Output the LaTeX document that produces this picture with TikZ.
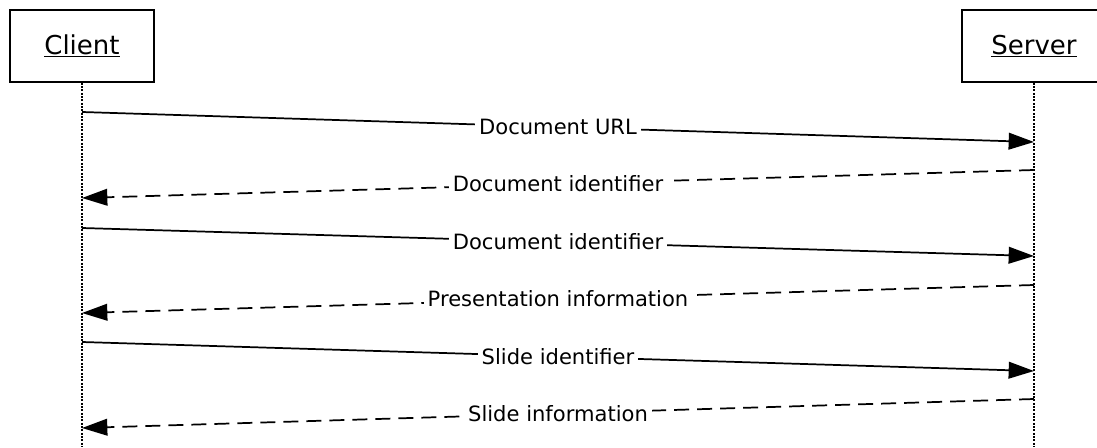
\documentclass[tikz,border=0pt]{standalone}
\usepackage{fontspec}
\setmainfont{DejaVu Sans}
\usetikzlibrary{arrows.meta}
\begin{document}
\begin{tikzpicture}[x=0.75pt,y=-0.75pt,
  actor/.style={draw=black, line width=1.2pt, minimum width=108pt, minimum height=54pt, inner sep=0pt, font=\fontsize{19.5}{23}\selectfont},
  lifeline/.style={line width=1.3pt, dash pattern=on 1.3pt off 1.2pt},
  msg/.style={line width=1.3pt, -{Triangle[length=19pt,width=12.5pt]}},
  reply/.style={msg, dash pattern=on 11.25pt off 6pt},
  lbl/.style={fill=white, inner xsep=3pt, inner ysep=1pt, font=\fontsize{15.8}{19}\selectfont}]
\useasboundingbox (0,0) rectangle (1097,447);
\clip (0,0) rectangle (1097,447);
\node[actor] (client) at (82,46) {\underline{Client}};
\node[actor] (server) at (1034,46) {\underline{Server}};
\coordinate (cend) at (82,447);
\coordinate (send) at (1034,447);
\draw[lifeline] (client.south) -- (cend);
\draw[lifeline] (server.south) -- (send);
\coordinate (c1) at (82,112);   \coordinate (s1) at (1034,142);
\coordinate (s2) at (1034,170); \coordinate (c2) at (82,198);
\coordinate (c3) at (82,228);   \coordinate (s3) at (1034,256);
\coordinate (s4) at (1034,285); \coordinate (c4) at (82,313);
\coordinate (c5) at (82,342);   \coordinate (s5) at (1034,371);
\coordinate (s6) at (1034,399); \coordinate (c6) at (82,428);
\draw[msg] (c1) -- node[lbl] (m1) {Document URL} (s1);
\draw[reply] (s2) -- node[lbl] (m2) {Document identifier} (c2);
\draw[msg] (c3) -- node[lbl] (m3) {Document identifier} (s3);
\draw[reply] (s4) -- node[lbl] (m4) {Presentation information} (c4);
\draw[msg] (c5) -- node[lbl] (m5) {Slide identifier} (s5);
\draw[reply] (s6) -- node[lbl] (m6) {Slide information} (c6);
\end{tikzpicture}
\end{document}
